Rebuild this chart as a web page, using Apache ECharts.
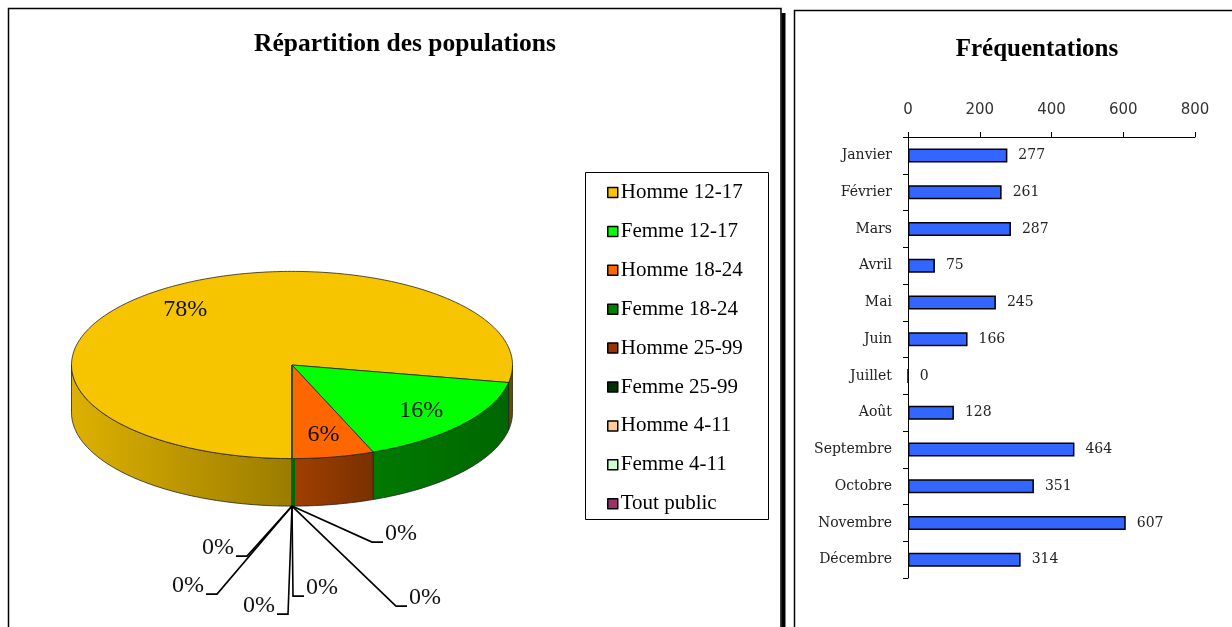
<!DOCTYPE html>
<html>
<head>
<meta charset="utf-8">
<script src="https://cdn.jsdelivr.net/npm/echarts@6/dist/echarts.min.js"></script>
<style>
  html, body { margin: 0; padding: 0; background: #fff; }
  #chart { width: 1232px; height: 627px; }
</style>
</head>
<body>
<div id="chart"></div>
<script>
// ---------- DATA ----------
const pieTitle = 'Répartition des populations';
const pieNames = ['Homme 12-17', 'Femme 12-17', 'Homme 18-24', 'Femme 18-24', 'Homme 25-99', 'Femme 25-99', 'Homme 4-11', 'Femme 4-11', 'Tout public'];
const pieValues = [78, 16, 6, 0, 0, 0, 0, 0, 0];

const barTitle = 'Fréquentations';
const months = ['Janvier', 'Février', 'Mars', 'Avril', 'Mai', 'Juin', 'Juillet', 'Août', 'Septembre', 'Octobre', 'Novembre', 'Décembre'];
const visits = [277, 261, 287, 75, 245, 166, 0, 128, 464, 351, 607, 314];
const xMin = 0, xMax = 800, xInterval = 200;

// ---------- STYLE ----------
const pieColors = ['#F6C500', '#00FF00', '#FF6600', '#008000', '#993300', '#003300', '#FFCC99', '#CCFFCC', '#993366'];
const PIE = { cx: 292, cy: 365, rx: 220.5, ry: 93.6, depth: 47.5, startDeg: 90 };
// leader layout for zero-value labels: [dx, dy, direction]
const zeroLeaderLayout = [[-45, 50, -1], [-75, 88, -1], [-4, 108, -1], [1, 90, 1], [80, 36, 1], [104, 100, 1]];
const serif = '"Liberation Serif", "Times New Roman", serif';

function shade(hex, f) {
  const r = parseInt(hex.slice(1, 3), 16), g = parseInt(hex.slice(3, 5), 16), b = parseInt(hex.slice(5, 7), 16);
  return 'rgb(' + Math.round(r * f) + ',' + Math.round(g * f) + ',' + Math.round(b * f) + ')';
}
function pt(tDeg, dz, k) {
  const t = tDeg * Math.PI / 180; k = k || 1;
  return [PIE.cx + k * PIE.rx * Math.cos(t), PIE.cy + k * PIE.ry * Math.sin(t) + dz];
}
function arc(a, b, dz) {
  const pts = [];
  const n = Math.max(2, Math.ceil(Math.abs(b - a)));
  for (let i = 0; i <= n; i++) pts.push(pt(a + (b - a) * i / n, dz));
  return pts;
}

const total = pieValues.reduce((s, v) => s + v, 0);

function renderPie(params, api) {
  const i = params.dataIndex;
  const v = api.value(0);
  let start = PIE.startDeg;
  for (let k = 0; k < i; k++) start += pieValues[k] / total * 360;
  const end = start + v / total * 360;
  const color = pieColors[i];
  const children = [];
  const sideFill = {
    type: 'linear', x: PIE.cx - PIE.rx, y: 0, x2: PIE.cx + PIE.rx, y2: 0, global: true,
    colorStops: [
      { offset: 0, color: shade(color, 0.9) },
      { offset: 0.5, color: shade(color, 0.63) },
      { offset: 0.68, color: shade(color, 0.48) },
      { offset: 1, color: shade(color, 0.4) }
    ]
  };
  if (v > 0) {
    for (let k = -1; k <= 2; k++) {
      const lo = Math.max(start, 360 * k), hi = Math.min(end, 360 * k + 180);
      if (hi > lo) {
        const pts = arc(lo, hi, 0).concat(arc(hi, lo, PIE.depth));
        children.push({ type: 'polygon', z2: 1, shape: { points: pts }, style: { fill: sideFill, stroke: '#222', lineWidth: 0.8 } });
      }
    }
    const top = [[PIE.cx, PIE.cy]].concat(arc(start, end, 0));
    children.push({ type: 'polygon', z2: 2, shape: { points: top }, style: { fill: color, stroke: '#222', lineWidth: 0.8 } });
    const mid = (start + end) / 2;
    const lp = pt(mid, 0, 0.76);
    children.push({ type: 'text', z2: 5, style: { text: Math.round(v / total * 100) + '%', x: lp[0], y: lp[1], font: '24px ' + serif, fill: '#111', align: 'center', verticalAlign: 'middle' } });
  } else {
    let zi = 0;
    for (let k = 0; k < i; k++) if (pieValues[k] === 0) zi++;
    const lay = zeroLeaderLayout[zi % zeroLeaderLayout.length];
    const o = pt(start, PIE.depth);
    if (zi === 0) {
      children.push({ type: 'line', z2: 3, shape: { x1: o[0] + 1.5, y1: o[1] - PIE.depth, x2: o[0] + 1.5, y2: o[1] }, style: { stroke: shade(color, 0.8), lineWidth: 3 } });
      children.push({ type: 'line', z2: 3, shape: { x1: PIE.cx, y1: PIE.cy, x2: o[0], y2: o[1] - PIE.depth }, style: { stroke: '#0a4a0a', lineWidth: 1.5 } });
    }
    const e = [o[0] + lay[0], o[1] + lay[1]];
    const f = [e[0] + lay[2] * 11, e[1]];
    children.push({ type: 'polyline', z2: 4, shape: { points: [o, e, f] }, style: { stroke: '#000', lineWidth: 1.6, fill: null } });
    children.push({ type: 'text', z2: 5, style: { text: Math.round(v / total * 100) + '%', x: f[0] + lay[2] * 2, y: f[1] + 4, font: '24px ' + serif, fill: '#111', align: lay[2] < 0 ? 'right' : 'left', verticalAlign: 'bottom' } });
  }
  return { type: 'group', children: children };
}

const chart = echarts.init(document.getElementById('chart'), null, { renderer: 'canvas' });
chart.setOption({
  backgroundColor: '#fff',
  animation: false,
  title: [
    { text: pieTitle, left: 400, top: 26, textAlign: 'center', textStyle: { fontFamily: serif, fontWeight: 'bold', fontSize: 25.5, color: '#000' } },
    { text: barTitle, left: 1032, top: 32, textAlign: 'center', textStyle: { fontFamily: serif, fontWeight: 'bold', fontSize: 25, color: '#000' } }
  ],
  legend: {
    orient: 'vertical', left: 602, top: 177, itemWidth: 10, itemHeight: 10, itemGap: 17.9,
    icon: 'rect', selectedMode: false,
    data: pieNames,
    itemStyle: { borderColor: '#000', borderWidth: 1.5 },
    textStyle: { fontFamily: serif, fontSize: 21, color: '#000', lineHeight: 20, padding: [0, 0, 0, -2] }
  },
  grid: { left: 908, top: 137, width: 287, height: 441, outerBoundsMode: 'none' },
  xAxis: {
    type: 'value', position: 'top', min: xMin, max: xMax, interval: xInterval,
    axisLine: { show: true, lineStyle: { color: '#000', width: 1 } },
    axisTick: { show: true, length: 5, lineStyle: { color: '#000' } },
    splitLine: { show: false },
    axisLabel: { margin: 19, fontFamily: '"DejaVu Sans", sans-serif', fontSize: 15, color: '#333' }
  },
  yAxis: {
    type: 'category', inverse: true, data: months,
    axisLine: { show: true, lineStyle: { color: '#000', width: 1 } },
    axisTick: { show: true, length: 5, lineStyle: { color: '#000' } },
    axisLabel: { margin: 16, fontFamily: '"DejaVu Serif", serif', fontSize: 14, color: '#222' }
  },
  series: [
    {
      type: 'bar', data: visits, barWidth: 14,
      itemStyle: { color: '#3366FF', borderColor: '#000', borderWidth: 1.5 },
      label: { show: true, position: 'right', distance: 11, fontFamily: '"DejaVu Serif", serif', fontSize: 14, color: '#222' }
    },
    {
      type: 'custom', coordinateSystem: 'none', renderItem: renderPie,
      data: pieValues.map((v, i) => ({ name: pieNames[i], value: v }))
    },
    {
      type: 'pie', center: [-200, -200], radius: 1, silent: true,
      label: { show: false }, labelLine: { show: false },
      data: pieValues.map((v, i) => ({ name: pieNames[i], value: v, itemStyle: { color: pieColors[i] } }))
    }
  ],
  graphic: [
    { type: 'rect', shape: { x: 8.5, y: 8.5, width: 772.5, height: 660 }, style: { fill: null, stroke: '#000', lineWidth: 1.5 }, silent: true },
    { type: 'rect', shape: { x: 781.5, y: 13, width: 4, height: 660 }, style: { fill: '#000', stroke: null }, silent: true },
    { type: 'rect', shape: { x: 794.5, y: 10.5, width: 500, height: 660 }, style: { fill: null, stroke: '#000', lineWidth: 1.5 }, silent: true },
    { type: 'rect', shape: { x: 585.5, y: 172.5, width: 183, height: 347 }, style: { fill: null, stroke: '#000', lineWidth: 1 }, silent: true }
  ]
});
</script>
</body>
</html>
